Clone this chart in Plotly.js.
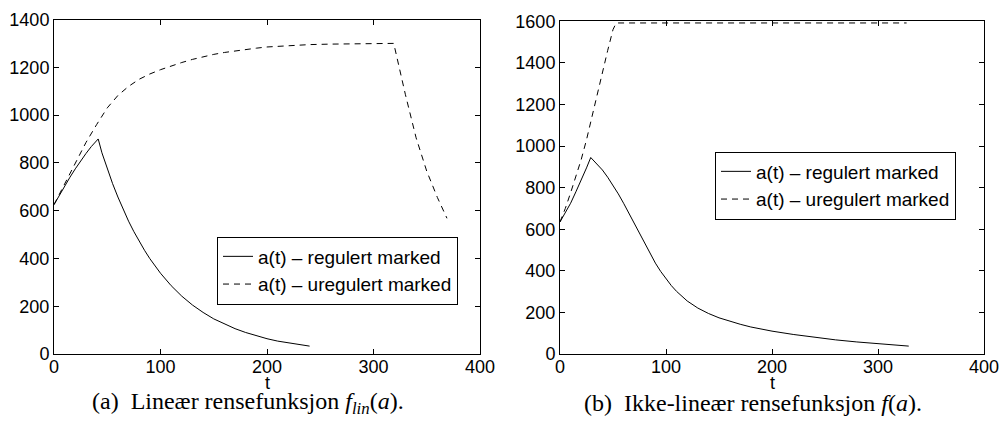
<!DOCTYPE html>
<html>
<head>
<meta charset="utf-8">
<script src="https://cdn.plot.ly/plotly-3.0.1.min.js"></script>
<style>html,body{margin:0;padding:0;background:#fff;}#chart{width:999px;height:421px;}</style>
</head>
<body>
<div id="chart"></div>
<script>
// (a) linear cleaning function
const tLinReg = [0,5,10,15,20,25,30,35,41.5,45,50,55,60,65,70,75,80,85,90,95,100,110,120,130,140,150,160,170,180,190,200,210,220,230,240];
const aLinReg = [625,665,703,740,775,808,839,868,900,842,775,713,657,604,556,512,471,434,399,367,338,286,242,205,174,147,125,106,90,76,64,54,46,39,33];
const tLinUnreg = [0,10,20,30,40,50,60,70,80,90,100,110,120,130,140,150,160,170,180,190,200,220,240,260,280,300,319,330,340,350,360,369];
const aLinUnreg = [625,712,800,885,960,1030,1082,1120,1150,1172,1190,1206,1220,1233,1244,1254,1262,1269,1275,1280,1285,1291,1295,1297,1299,1300,1300,1085,905,765,655,568];

// (b) non-linear cleaning function
const tNlReg = [0,5,10,15,20,25,29,35,40,45,50,55,60,65,70,75,80,85,90,95,100,105,110,120,130,140,150,160,170,180,190,200,220,240,260,280,300,320,329];
const aNlReg = [635,680,725,780,835,895,945,915,885,850,812,770,725,677,627,577,528,481,437,397,361,329,301,255,221,195,174,157,143,130,120,110,94,80,68,58,49,41,38];
const tNlUnreg = [0,5,10,15,20,25,30,35,40,45,50,53,100,150,200,250,300,327];
const aNlUnreg = [635,700,775,850,935,1030,1140,1250,1360,1460,1560,1592,1592,1592,1592,1592,1592,1592];

const xTicks = [0,100,200,300,400];
const xLabel = "t";
const nameReg = "a(t) \u2013 regulert marked";
const nameUnreg = "a(t) \u2013 uregulert marked";
const captionA = "(a)&nbsp;&nbsp;Line\u00e6r rensefunksjon <i>f</i><sub><i>lin</i></sub>(<i>a</i>).";
const captionB = "(b)&nbsp;&nbsp;Ikke-line\u00e6r rensefunksjon <i>f</i>(<i>a</i>).";

const sans = "'Liberation Sans', Arial, Helvetica, sans-serif";
const serif = "'Liberation Serif', 'Times New Roman', serif";
const W = 999, H = 421;

const solid = {color:'#000', width:1};
const dashed = {color:'#000', width:1, dash:'6px,5px'};

const traces = [
  {x:tLinReg, y:aLinReg, type:'scatter', mode:'lines', name:nameReg, line:solid, xaxis:'x', yaxis:'y', legend:'legend'},
  {x:tLinUnreg, y:aLinUnreg, type:'scatter', mode:'lines', name:nameUnreg, line:dashed, xaxis:'x', yaxis:'y', legend:'legend'},
  {x:tNlReg, y:aNlReg, type:'scatter', mode:'lines', name:nameReg, line:solid, xaxis:'x2', yaxis:'y2', legend:'legend2'},
  {x:tNlUnreg, y:aNlUnreg, type:'scatter', mode:'lines', name:nameUnreg, line:dashed, xaxis:'x2', yaxis:'y2', legend:'legend2'}
];

function xax(dom, anchor){
  return {domain:dom, anchor:anchor, range:[0,400], tickvals:xTicks, ticks:'inside', ticklen:5, tickcolor:'#000',
    showline:true, linecolor:'#000', linewidth:1, mirror:'ticks', showgrid:false, zeroline:false,
    tickfont:{family:sans, size:18, color:'#000'}, ticklabelstandoff:-4, ticklabeloverflow:'allow'};
}
function yax(dom, anchor, maxv){
  return {domain:dom, anchor:anchor, range:[0,maxv], dtick:200, ticks:'inside', ticklen:5, tickcolor:'#000',
    showline:true, linecolor:'#000', linewidth:1, mirror:'ticks', showgrid:false, zeroline:false,
    tickfont:{family:sans, size:18, color:'#000'}, ticklabeloverflow:'allow'};
}

const legendStyle = {bgcolor:'#fff', bordercolor:'#000', borderwidth:1, font:{family:sans, size:19, color:'#000'},
  xanchor:'left', yanchor:'middle', xref:'paper', yref:'paper', tracegroupgap:0};

const layout = {
  width:W, height:H, margin:{l:0,r:0,t:0,b:0},
  paper_bgcolor:'#fff', plot_bgcolor:'#fff', showlegend:true,
  xaxis: xax([54/W, 480/W], 'y'),
  yaxis: yax([(H-354)/H, (H-19.5)/H], 'x', 1400),
  xaxis2: xax([560/W, 984/W], 'y2'),
  yaxis2: yax([(H-354)/H, (H-21.3)/H], 'x2', 1600),
  legend: Object.assign({x:217/W, y:(H-270.5)/H}, legendStyle),
  legend2: Object.assign({x:715/W, y:(H-185.5)/H}, legendStyle),
  annotations:[
    {text:xLabel, xref:'paper', yref:'paper', x:267/W, y:(H-383)/H, xanchor:'center', yanchor:'middle', showarrow:false,
     font:{family:sans, size:18, color:'#000'}},
    {text:xLabel, xref:'paper', yref:'paper', x:772/W, y:(H-383)/H, xanchor:'center', yanchor:'middle', showarrow:false,
     font:{family:sans, size:18, color:'#000'}},
    {text:captionA, xref:'paper', yref:'paper', x:248/W, y:(H-403)/H, xanchor:'center', yanchor:'middle', showarrow:false,
     font:{family:serif, size:24, color:'#000'}},
    {text:captionB, xref:'paper', yref:'paper', x:753/W, y:(H-403)/H, xanchor:'center', yanchor:'middle', showarrow:false,
     font:{family:serif, size:24, color:'#000'}}
  ]
};

Plotly.newPlot('chart', traces, layout, {displayModeBar:false, staticPlot:true});
</script>
</body>
</html>
